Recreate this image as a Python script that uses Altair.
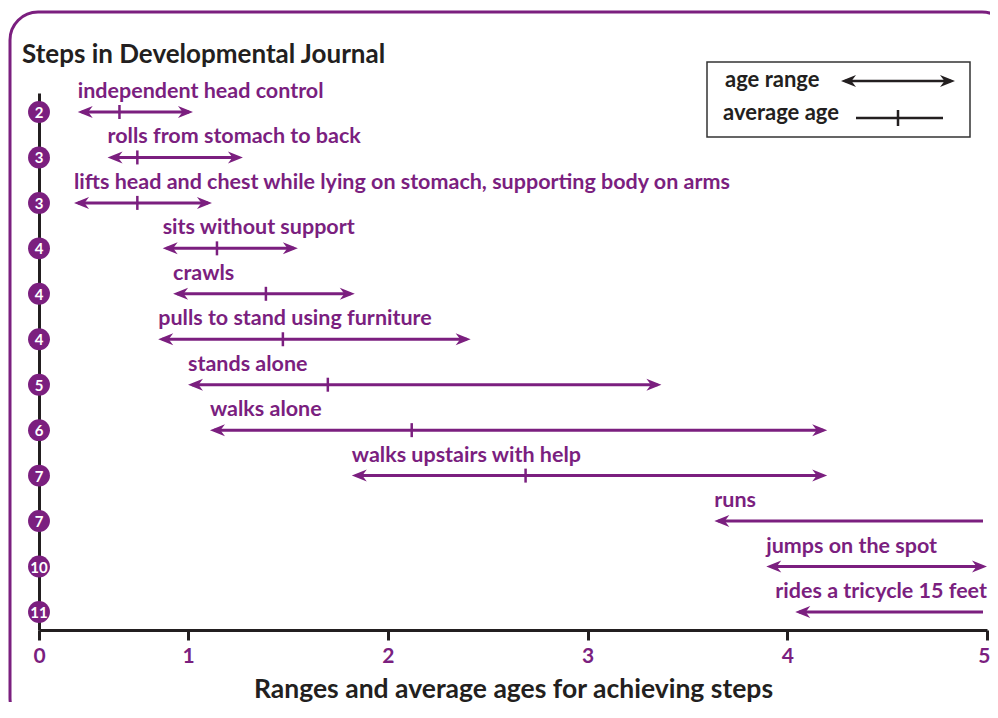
import altair as alt
import pandas as pd

PURPLE = "#7b1f7f"
INK = "#231f20"
FONT = "Lato"

# ---- data ----
rows = list(range(1, 13))
steps = [
    "independent head control",
    "rolls from stomach to back",
    "lifts head and chest while lying on stomach, supporting body on arms",
    "sits without support",
    "crawls",
    "pulls to stand using furniture",
    "stands alone",
    "walks alone",
    "walks upstairs with help",
    "runs",
    "jumps on the spot",
    "rides a tricycle 15 feet",
]
badges = ["2", "3", "3", "4", "4", "4", "5", "6", "7", "7", "10", "11"]
range_start = [0.26, 0.46, 0.235, 0.83, 0.90, 0.80, 1.00, 1.11, 1.82, 3.635, 3.895, 4.04]
range_end = [1.025, 1.275, 1.12, 1.55, 1.835, 2.415, 3.37, 4.20, 4.20, 5.0, 5.0, 5.0]
average_age = [0.54, 0.66, 0.66, 1.145, 1.39, 1.475, 1.70, 2.12, 2.69, None, None, None]
head_at_end = [True] * 9 + [False, True, False]
x_ticks = [0, 1, 2, 3, 4, 5]

df = pd.DataFrame({
    "row": rows, "step": steps, "badge": badges,
    "start": range_start, "end": range_end, "avg": average_age,
    "head_end": head_at_end,
})

W, H = 948, 537
xs = alt.Scale(domain=[0, 1, 5], range=[0, 149, W])
ys = alt.Scale(domain=[12.397, 0.582])

LEFT_HEAD = "M0,0 L2,-0.8 L1.4,0 L2,0.8 Z"
RIGHT_HEAD = "M0,0 L-2,-0.8 L-1.4,0 L-2,0.8 Z"
TICK = "M0,-1 L0,1"

base = alt.Chart(df)

x_axis = alt.Axis(
    values=x_ticks, format="d", title="Ranges and average ages for achieving steps",
    titleFont=FONT, titleFontSize=26.5, titleFontWeight="bold", titleColor=INK,
    titlePadding=10,
    labelFont=FONT, labelFontSize=21, labelFontWeight="bold", labelColor=PURPLE,
    labelPadding=5, labelFlush=False,
    labelAlign={"expr": "datum.value == 5 ? 'right' : 'center'"},
    labelOffset={"expr": "datum.value == 5 ? 3 : 0"},
    tickColor=INK, tickWidth=3, tickSize=10,
    domainColor=INK, domainWidth=3, grid=False,
)
y_axis = alt.Axis(
    domain=True, domainColor=INK, domainWidth=3, ticks=False, labels=False,
    title=None, grid=False,
)

# invisible layer that carries the axes
axes = base.mark_point(opacity=0).encode(
    x=alt.X("start:Q", scale=xs, axis=x_axis),
    y=alt.Y("row:Q", scale=ys, axis=y_axis),
)

lines = base.mark_rule(color=PURPLE, strokeWidth=3, xOffset=4, x2Offset=-4).encode(
    x=alt.X("start:Q", scale=xs),
    x2="end:Q",
    y=alt.Y("row:Q", scale=ys),
)

left_heads = base.mark_point(shape=LEFT_HEAD, size=225, filled=True, opacity=1,
                             color=PURPLE).encode(
    x=alt.X("start:Q", scale=xs),
    y=alt.Y("row:Q", scale=ys),
)

right_heads = base.transform_filter(alt.datum.head_end).mark_point(
    shape=RIGHT_HEAD, size=225, filled=True, opacity=1, color=PURPLE
).encode(
    x=alt.X("end:Q", scale=xs),
    y=alt.Y("row:Q", scale=ys),
)

avg_ticks = base.transform_filter("isValid(datum.avg)").mark_point(
    shape=TICK, size=196, filled=False, opacity=1, color=PURPLE, strokeWidth=2.5
).encode(
    x=alt.X("avg:Q", scale=xs),
    y=alt.Y("row:Q", scale=ys),
)

labels_left = base.transform_filter(alt.datum.row < 12).mark_text(
    align="left", baseline="alphabetic", dy=-14, font=FONT, fontSize=21.5,
    fontWeight="bold", color=PURPLE
).encode(
    x=alt.X("start:Q", scale=xs),
    y=alt.Y("row:Q", scale=ys),
    text="step:N",
)

labels_right = base.transform_filter(alt.datum.row == 12).mark_text(
    align="right", baseline="alphabetic", dy=-14, font=FONT, fontSize=21.5,
    fontWeight="bold", color=PURPLE
).encode(
    x=alt.X("end:Q", scale=xs),
    y=alt.Y("row:Q", scale=ys),
    text="step:N",
)

badge_dots = base.mark_point(shape="circle", size=480, filled=True, opacity=1,
                             color=PURPLE).encode(
    x=alt.value(0),
    y=alt.Y("row:Q", scale=ys),
)

badge_text = base.mark_text(align="center", baseline="middle", font=FONT,
                            fontSize=15, fontWeight="bold", color="white", dy=1).encode(
    x=alt.value(0),
    y=alt.Y("row:Q", scale=ys),
    text="badge:N",
)

one = pd.DataFrame({"k": [0]})

border = alt.Chart(one).mark_rect(
    cornerRadius=28, fillOpacity=0, stroke=PURPLE, strokeWidth=3
).encode(x=alt.value(-29), x2=alt.value(971), y=alt.value(-81), y2=alt.value(633))

title = alt.Chart(one).mark_text(
    align="left", baseline="alphabetic", font=FONT, fontSize=26, fontWeight="bold",
    color=INK, text="Steps in Developmental Journal"
).encode(x=alt.value(-17), y=alt.value(-30))

legend_box = alt.Chart(one).mark_rect(
    fillOpacity=0, stroke="#333333", strokeWidth=1.5
).encode(x=alt.value(668), x2=alt.value(931), y=alt.value(-31), y2=alt.value(44))

legend_t1 = alt.Chart(one).mark_text(
    align="left", baseline="alphabetic", font=FONT, fontSize=22, fontWeight="bold",
    color=INK, text="age range"
).encode(x=alt.value(686), y=alt.value(-6))

legend_t2 = alt.Chart(one).mark_text(
    align="left", baseline="alphabetic", font=FONT, fontSize=22, fontWeight="bold",
    color=INK, text="average age"
).encode(x=alt.value(684), y=alt.value(27))

legend_arrow = alt.Chart(one).mark_rule(color=INK, strokeWidth=2.5).encode(
    x=alt.value(806), x2=alt.value(912), y=alt.value(-12))
legend_lh = alt.Chart(one).mark_point(shape=LEFT_HEAD, size=225, filled=True,
                                      opacity=1, color=INK).encode(
    x=alt.value(802), y=alt.value(-12))
legend_rh = alt.Chart(one).mark_point(shape=RIGHT_HEAD, size=225, filled=True,
                                      opacity=1, color=INK).encode(
    x=alt.value(916), y=alt.value(-12))
legend_line = alt.Chart(one).mark_rule(color=INK, strokeWidth=2.5).encode(
    x=alt.value(817), x2=alt.value(904), y=alt.value(25))
legend_tick = alt.Chart(one).mark_rule(color=INK, strokeWidth=2.5).encode(
    x=alt.value(859), y=alt.value(17), y2=alt.value(33))

chart = alt.layer(
    axes, lines, left_heads, right_heads, avg_ticks, labels_left, labels_right,
    badge_dots, badge_text,
    border, title, legend_box, legend_t1, legend_t2,
    legend_arrow, legend_lh, legend_rh, legend_line, legend_tick,
).properties(
    width=W, height=H,
    autosize=alt.AutoSizeParams(type="none"),
    padding={"left": 31, "top": 85, "right": 3, "bottom": 72},
    background="white",
).configure_view(stroke=None)

chart.save("out.html", embed_options={"renderer": "svg", "actions": False})
